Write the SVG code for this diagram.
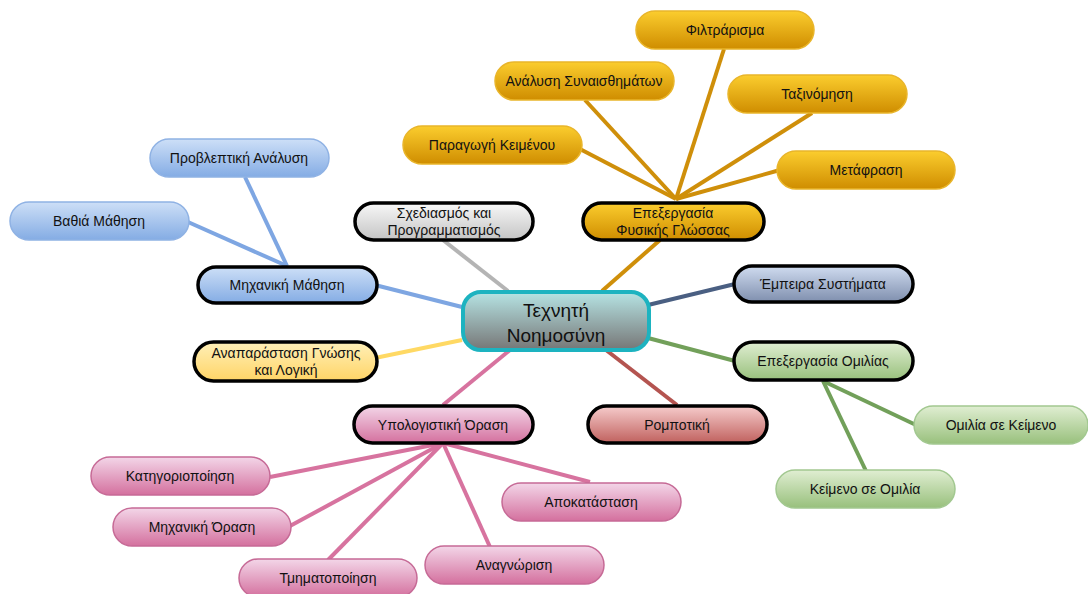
<svg xmlns="http://www.w3.org/2000/svg" width="1088" height="594" viewBox="0 0 1088 594">
  <defs>
    <linearGradient id="gCore" x1="0" y1="0" x2="0" y2="1"><stop offset="0" stop-color="#b6e4e4"/><stop offset="1" stop-color="#767676"/></linearGradient>
    <linearGradient id="gGold" x1="0" y1="0" x2="0" y2="1"><stop offset="0" stop-color="#fbcd2e"/><stop offset="1" stop-color="#cf8d00"/></linearGradient>
    <linearGradient id="gBlue" x1="0" y1="0" x2="0" y2="1"><stop offset="0" stop-color="#cddff7"/><stop offset="1" stop-color="#84ace4"/></linearGradient>
    <linearGradient id="gYellow" x1="0" y1="0" x2="0" y2="1"><stop offset="0" stop-color="#fff0b8"/><stop offset="1" stop-color="#ffd466"/></linearGradient>
    <linearGradient id="gGray" x1="0" y1="0" x2="0" y2="1"><stop offset="0" stop-color="#f8f8f8"/><stop offset="1" stop-color="#c4c4c4"/></linearGradient>
    <linearGradient id="gSlate" x1="0" y1="0" x2="0" y2="1"><stop offset="0" stop-color="#d0dcf0"/><stop offset="1" stop-color="#7f8fae"/></linearGradient>
    <linearGradient id="gGreen" x1="0" y1="0" x2="0" y2="1"><stop offset="0" stop-color="#e0eed2"/><stop offset="1" stop-color="#98c07c"/></linearGradient>
    <linearGradient id="gRed" x1="0" y1="0" x2="0" y2="1"><stop offset="0" stop-color="#f6cccc"/><stop offset="1" stop-color="#c0615e"/></linearGradient>
    <linearGradient id="gPink" x1="0" y1="0" x2="0" y2="1"><stop offset="0" stop-color="#f3d6e8"/><stop offset="1" stop-color="#d4709e"/></linearGradient>
  </defs>
  <style>
    text { font-family: "Liberation Sans", Arial, sans-serif; font-size: 14px; fill: #111; text-anchor: middle; }
    .core text { font-size: 19px; }
    .main rect { stroke: #000; stroke-width: 3.5; }
    .leaf rect { stroke-width: 1.5; }
    .links line { stroke-width: 4; stroke-linecap: butt; }
    .gold line { stroke: #cf8f0a; }
    .blue line { stroke: #7ea6e2; }
    .pink line { stroke: #d7739f; }
    .green line { stroke: #72a05a; }
  </style>

  <!-- connectors -->
  <g id="connectors" class="links">
    <line x1="462" y1="307" x2="375" y2="285" stroke="#7ea6e2"/>
    <line x1="508" y1="291" x2="443" y2="240" stroke="#b4b4b4"/>
    <line x1="602" y1="291" x2="660" y2="240" stroke="#cf8f0a"/>
    <line x1="648" y1="305" x2="735" y2="284" stroke="#4a5f82"/>
    <line x1="648" y1="338" x2="735" y2="361" stroke="#72a05a"/>
    <line x1="606" y1="350" x2="677" y2="405" stroke="#b45450"/>
    <line x1="510" y1="350" x2="443" y2="405" stroke="#d7739f"/>
    <line x1="462" y1="340" x2="375" y2="358" stroke="#ffd964"/>
    <g class="gold">
      <line x1="676" y1="199" x2="578" y2="148"/>
      <line x1="676" y1="199" x2="585" y2="100"/>
      <line x1="676" y1="199" x2="724" y2="49"/>
      <line x1="676" y1="199" x2="812" y2="113"/>
      <line x1="676" y1="199" x2="780" y2="170"/>
    </g>
    <g class="blue">
      <line x1="287" y1="266" x2="245" y2="177"/>
      <line x1="287" y1="266" x2="188" y2="222"/>
    </g>
    <g class="green">
      <line x1="823" y1="381" x2="916" y2="425"/>
      <line x1="823" y1="381" x2="866" y2="471"/>
    </g>
    <g class="pink">
      <line x1="443" y1="443" x2="270" y2="477"/>
      <line x1="443" y1="443" x2="290" y2="526"/>
      <line x1="443" y1="443" x2="328" y2="560"/>
      <line x1="443" y1="443" x2="490" y2="547"/>
      <line x1="443" y1="443" x2="590" y2="482"/>
    </g>
  </g>

  <!-- central topic -->
  <g id="n-core" class="core">
    <rect x="463" y="292" width="186" height="58" rx="18" fill="url(#gCore)" stroke="#1db3c0" stroke-width="4"/>
    <text x="556" y="317">Τεχνητή</text>
    <text x="556" y="342">Νοημοσύνη</text>
  </g>

  <!-- main branches -->
  <g id="n-ml" class="main"><rect x="198" y="267" width="179" height="36" rx="18" fill="url(#gBlue)"/><text x="287" y="290">Μηχανική Μάθηση</text></g>
  <g id="n-kr" class="main"><rect x="194" y="342" width="183" height="39" rx="19.5" fill="url(#gYellow)"/><text x="286" y="358">Αναπαράσταση Γνώσης</text><text x="286" y="375">και Λογική</text></g>
  <g id="n-plan" class="main"><rect x="355" y="203" width="178" height="37" rx="18.5" fill="url(#gGray)"/><text x="444" y="218">Σχεδιασμός και</text><text x="444" y="235">Προγραμματισμός</text></g>
  <g id="n-nlp" class="main"><rect x="583" y="203" width="181" height="37" rx="18.5" fill="url(#gGold)"/><text x="673" y="218">Επεξεργασία</text><text x="673" y="235">Φυσικής Γλώσσας</text></g>
  <g id="n-expert" class="main"><rect x="734" y="266" width="179" height="36" rx="18" fill="url(#gSlate)"/><text x="823" y="289">Έμπειρα Συστήματα</text></g>
  <g id="n-speech" class="main"><rect x="734" y="342" width="179" height="38" rx="19" fill="url(#gGreen)"/><text x="823" y="366">Επεξεργασία Ομιλίας</text></g>
  <g id="n-robot" class="main"><rect x="588" y="406" width="179" height="37" rx="18.5" fill="url(#gRed)"/><text x="677" y="430">Ρομποτική</text></g>
  <g id="n-cv" class="main"><rect x="354" y="406" width="179" height="37" rx="18.5" fill="url(#gPink)"/><text x="443" y="430">Υπολογιστική Όραση</text></g>

  <!-- language leaves -->
  <g id="n-filter" class="leaf"><rect x="636" y="11" width="178" height="38" rx="19" fill="url(#gGold)" stroke="#e9b52a"/><text x="725" y="35">Φιλτράρισμα</text></g>
  <g id="n-sentiment" class="leaf"><rect x="495" y="62" width="179" height="38" rx="19" fill="url(#gGold)" stroke="#e9b52a"/><text x="584" y="86">Ανάλυση Συναισθημάτων</text></g>
  <g id="n-classify" class="leaf"><rect x="728" y="75" width="179" height="38" rx="19" fill="url(#gGold)" stroke="#e9b52a"/><text x="817" y="99">Ταξινόμηση</text></g>
  <g id="n-textgen" class="leaf"><rect x="403" y="126" width="179" height="38" rx="19" fill="url(#gGold)" stroke="#e9b52a"/><text x="492" y="150">Παραγωγή Κειμένου</text></g>
  <g id="n-translate" class="leaf"><rect x="777" y="151" width="178" height="38" rx="19" fill="url(#gGold)" stroke="#e9b52a"/><text x="866" y="175">Μετάφραση</text></g>

  <!-- learning leaves -->
  <g id="n-predict" class="leaf"><rect x="150" y="139" width="179" height="38" rx="19" fill="url(#gBlue)" stroke="#8fb2e4"/><text x="239" y="163">Προβλεπτική Ανάλυση</text></g>
  <g id="n-deep" class="leaf"><rect x="10" y="202" width="179" height="38" rx="19" fill="url(#gBlue)" stroke="#8fb2e4"/><text x="99" y="226">Βαθιά Μάθηση</text></g>

  <!-- speech leaves -->
  <g id="n-stt" class="leaf"><rect x="914" y="406" width="174" height="38" rx="19" fill="url(#gGreen)" stroke="#a2c890"/><text x="1001" y="430">Ομιλία σε Κείμενο</text></g>
  <g id="n-tts" class="leaf"><rect x="776" y="470" width="179" height="38" rx="19" fill="url(#gGreen)" stroke="#a2c890"/><text x="865" y="494">Κείμενο σε Ομιλία</text></g>

  <!-- vision leaves -->
  <g id="n-categ" class="leaf"><rect x="91" y="457" width="179" height="38" rx="19" fill="url(#gPink)" stroke="#c66a96"/><text x="180" y="481">Κατηγοριοποίηση</text></g>
  <g id="n-mvision" class="leaf"><rect x="113" y="508" width="178" height="38" rx="19" fill="url(#gPink)" stroke="#c66a96"/><text x="202" y="532">Μηχανική Όραση</text></g>
  <g id="n-segment" class="leaf"><rect x="239" y="559" width="178" height="38" rx="19" fill="url(#gPink)" stroke="#c66a96"/><text x="328" y="583">Τμηματοποίηση</text></g>
  <g id="n-recog" class="leaf"><rect x="425" y="546" width="179" height="38" rx="19" fill="url(#gPink)" stroke="#c66a96"/><text x="514" y="570">Αναγνώριση</text></g>
  <g id="n-restore" class="leaf"><rect x="502" y="483" width="179" height="38" rx="19" fill="url(#gPink)" stroke="#c66a96"/><text x="591" y="507">Αποκατάσταση</text></g>
</svg>
